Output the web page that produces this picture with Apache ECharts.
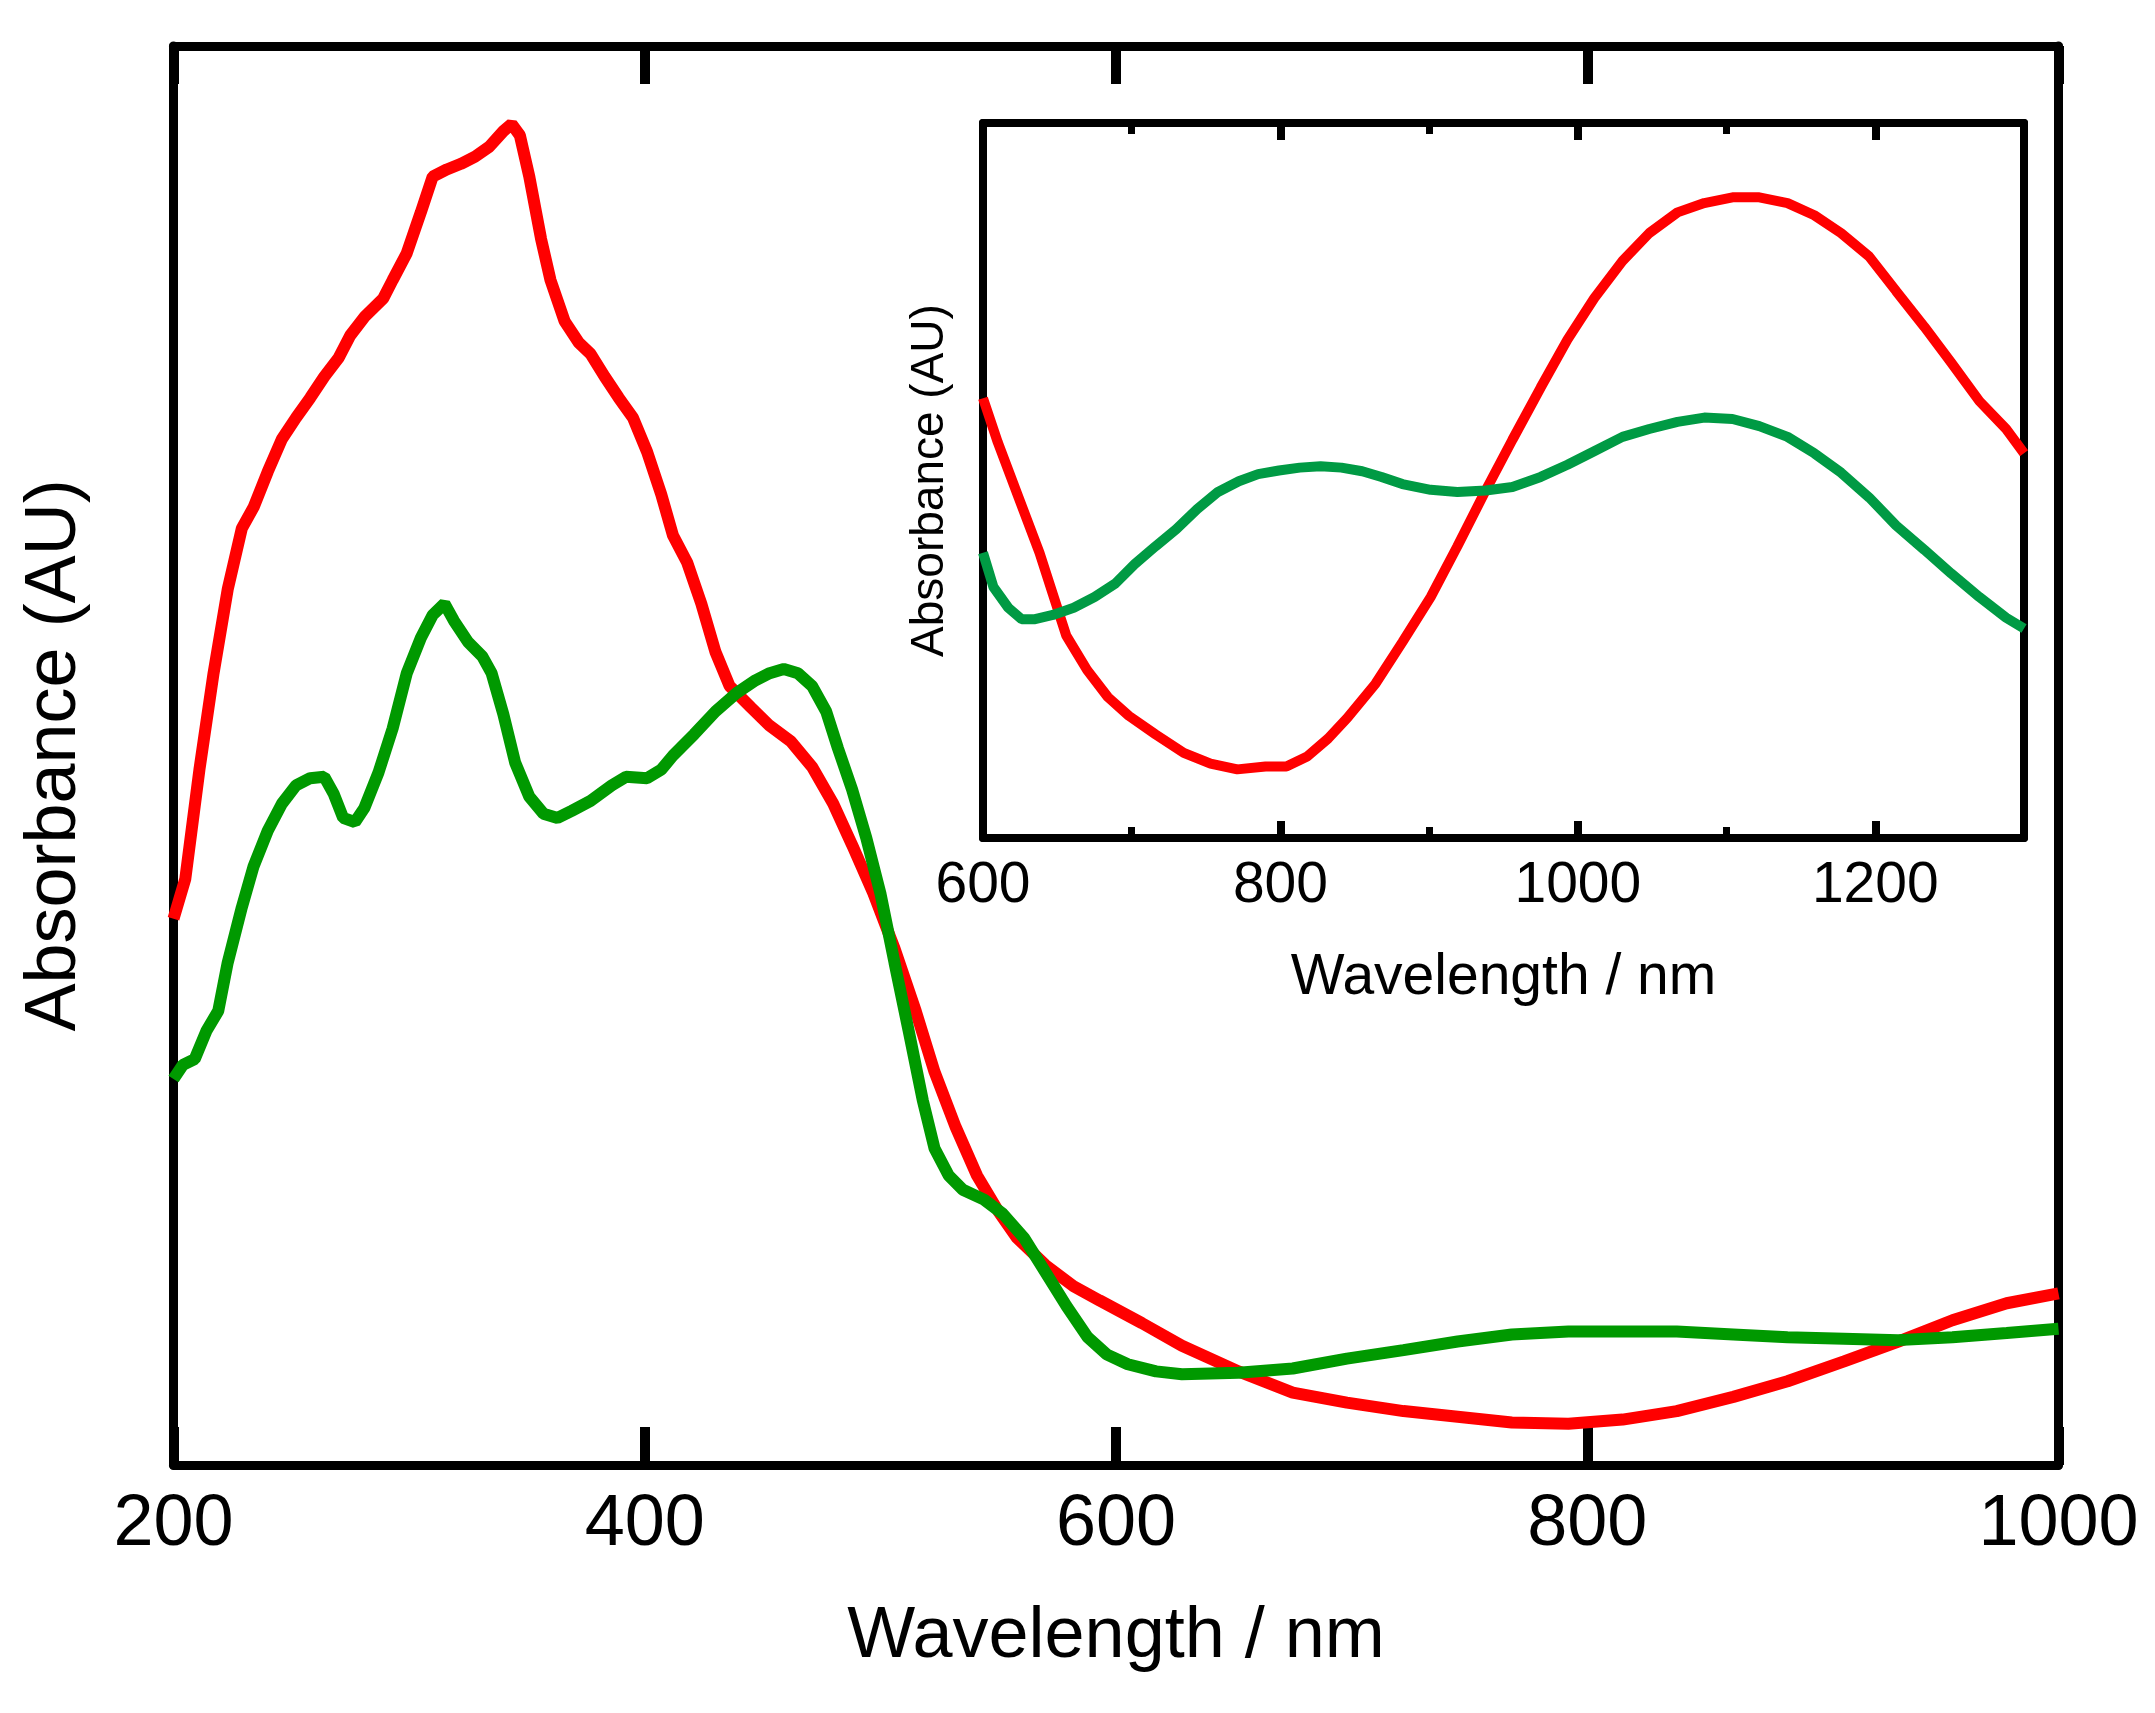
<!DOCTYPE html>
<html>
<head>
<meta charset="utf-8">
<script src="https://cdn.jsdelivr.net/npm/echarts@6/dist/echarts.min.js"></script>
<style>
html, body { margin: 0; padding: 0; background: #fff; }
#chart { width: 2155px; height: 1713px; }
</style>
</head>
<body>
<div id="chart"></div>
<script>
// main spectrum, 200 - 1000 nm (absorbance in arbitrary units, 0 = bottom of frame)
var redWl = [200, 205, 211, 217, 223, 229, 234, 240, 246, 252, 258, 264, 270, 275, 281, 289, 293, 299, 305, 310, 316, 322, 328, 334, 340, 343.5, 347, 351, 356, 360, 366, 372, 377, 383, 389, 395, 401, 407, 412, 418, 424, 430, 436, 445, 453, 462, 471, 480, 488, 497, 506, 515, 523, 532, 541, 550, 558, 570, 582, 593, 611, 628, 652, 675, 698, 722, 745, 768, 792, 815, 838, 862, 885, 909, 932, 955, 978, 1000];
var redAbs = [38.5, 41.3, 49, 55.8, 61.7, 66, 67.5, 70, 72.3, 73.8, 75.2, 76.7, 78, 79.6, 80.9, 82.2, 83.5, 85.4, 88.3, 90.8, 91.3, 91.7, 92.2, 92.9, 94, 94.5, 93.7, 90.8, 86.4, 83.5, 80.6, 79.1, 78.3, 76.7, 75.2, 73.8, 71.4, 68.4, 65.5, 63.6, 60.7, 57.3, 54.9, 53.4, 52.1, 51, 49.2, 46.6, 43.7, 40.3, 36.4, 32, 27.7, 23.8, 20.4, 17.9, 16, 14.1, 12.6, 11.6, 10, 8.4, 6.6, 5.1, 4.4, 3.8, 3.4, 3, 2.9, 3.2, 3.8, 4.8, 5.9, 7.3, 8.7, 10.2, 11.4, 12.1];
var greenWl = [200, 204, 209, 214, 219, 223, 229, 234, 240, 246, 252, 258, 264, 268, 272, 277, 281, 287, 293, 299, 305, 310, 315, 319, 325, 331, 335, 340, 345, 351, 357, 363, 369, 377, 386, 392, 401, 407, 412, 421, 430, 439, 447, 453, 459, 465, 471, 477, 482, 488, 494, 500, 506, 512, 518, 523, 529, 535, 544, 552, 561, 570, 579, 588, 596, 605, 617, 628, 652, 675, 698, 722, 745, 768, 792, 815, 838, 862, 885, 909, 932, 955, 978, 1000];
var greenAbs = [27.2, 28.2, 28.6, 30.6, 32, 35.4, 39.3, 42.2, 44.7, 46.6, 47.9, 48.4, 48.5, 47.3, 45.6, 45.3, 46.3, 48.8, 51.9, 55.8, 58.3, 59.9, 60.7, 59.5, 58, 57, 55.8, 52.9, 49.5, 47.1, 45.9, 45.6, 46.1, 46.8, 47.9, 48.5, 48.4, 49, 50, 51.5, 53.1, 54.4, 55.3, 55.8, 56.1, 55.8, 54.9, 53.1, 50.5, 47.6, 44.2, 40.3, 35.4, 30.6, 25.7, 22.3, 20.4, 19.4, 18.7, 17.7, 16, 13.6, 11.2, 9, 7.8, 7.1, 6.6, 6.4, 6.5, 6.8, 7.5, 8.1, 8.7, 9.2, 9.4, 9.4, 9.4, 9.2, 9, 8.9, 8.8, 9, 9.3, 9.6];

// inset, 600 - 1300 nm
var insetRedWl = [600, 610, 624, 638, 647, 656, 670, 684, 698, 716, 735, 753, 771, 790, 804, 818, 832, 845, 864, 882, 901, 919, 938, 956, 975, 993, 1011, 1030, 1048, 1067, 1085, 1104, 1122, 1141, 1159, 1177, 1196, 1214, 1233, 1251, 1270, 1288, 1300];
var insetRedAbs = [61.5, 55.3, 47.6, 39.9, 34.1, 28.3, 23.5, 19.7, 17.1, 14.5, 11.9, 10.4, 9.6, 10, 10, 11.4, 13.9, 16.8, 21.6, 27.4, 33.7, 40.8, 48.6, 55.7, 63, 69.7, 75.5, 80.7, 84.6, 87.5, 88.8, 89.6, 89.6, 88.8, 87.1, 84.6, 81.3, 76.5, 71.5, 66.5, 61.1, 57.2, 53.8];
var insetGreenWl = [600, 607, 617, 626, 635, 647, 661, 675, 689, 702, 716, 730, 744, 758, 772, 785, 799, 813, 827, 841, 855, 868, 882, 901, 919, 938, 956, 975, 993, 1011, 1030, 1048, 1067, 1085, 1104, 1122, 1141, 1159, 1177, 1196, 1214, 1233, 1251, 1270, 1288, 1300];
var insetGreenAbs = [39.9, 35.1, 32.2, 30.6, 30.6, 31.2, 32.2, 33.7, 35.6, 38.3, 40.8, 43.2, 46, 48.4, 49.9, 50.9, 51.4, 51.8, 52, 51.8, 51.3, 50.5, 49.5, 48.7, 48.4, 48.6, 49.1, 50.5, 52.2, 54.1, 56.1, 57.2, 58.2, 58.8, 58.6, 57.6, 56.1, 53.8, 51.1, 47.6, 43.7, 40.3, 37, 33.7, 30.8, 29.3];

var mainTicks = ['200', '400', '600', '800', '1000'];
var insetTicks = ['600', '800', '1000', '1200'];

function pairs(xs, ys) {
    var out = [];
    for (var i = 0; i < xs.length; i++) {
        out.push([xs[i], ys[i]]);
    }
    return out;
}

var font = '"Liberation Sans", Arial, Helvetica, sans-serif';
var black = '#000';

// x axis helper: frame side with optional ticks / labels
function xSide(grid, min, max, interval, pos, lineW, tickLen, tickW, showLine) {
    return {
        type: 'value', gridIndex: grid, min: min, max: max, interval: interval, position: pos,
        axisLine: { show: showLine, onZero: false, lineStyle: { color: black, width: lineW } },
        axisTick: { inside: true, length: tickLen, lineStyle: { color: black, width: tickW } },
        axisLabel: { show: false },
        splitLine: { show: false }
    };
}

function ySide(grid, pos, lineW) {
    return {
        type: 'value', gridIndex: grid, min: 0, max: 100, position: pos,
        axisLine: { show: true, onZero: false, lineStyle: { color: black, width: lineW } },
        axisTick: { show: false }, axisLabel: { show: false }, splitLine: { show: false }
    };
}

var mainBottom = xSide(0, 200, 1000, 200, 'bottom', 9, 38, 10, true);
mainBottom.axisLabel = {
    color: black, fontSize: 72, fontFamily: font, margin: 24,
    formatter: function (v) { return mainTicks.indexOf(String(v)) >= 0 ? String(v) : ''; }
};
mainBottom.name = 'Wavelength / nm';
mainBottom.nameLocation = 'middle';
mainBottom.nameGap = 136;
mainBottom.nameTextStyle = { color: black, fontSize: 72, fontFamily: font };

var insetBottom = xSide(1, 600, 1300, 200, 'bottom', 8, 17, 8, true);
insetBottom.axisLabel = {
    color: black, fontSize: 57, fontFamily: font, margin: 20,
    formatter: function (v) { return insetTicks.indexOf(String(v)) >= 0 ? String(v) : ''; }
};
insetBottom.name = 'Wavelength / nm';
insetBottom.nameLocation = 'middle';
insetBottom.nameGap = 112;
insetBottom.nameTextStyle = { color: black, fontSize: 57, fontFamily: font };

var mainLeft = ySide(0, 'left', 9);
mainLeft.name = 'Absorbance (AU)';
mainLeft.nameLocation = 'middle';
mainLeft.nameGap = 82;
mainLeft.nameRotate = 90;
mainLeft.nameTextStyle = { color: black, fontSize: 72, fontFamily: font };

var insetLeft = ySide(1, 'left', 8);
insetLeft.name = 'Absorbance (AU)';
insetLeft.nameLocation = 'middle';
insetLeft.nameGap = 30;
insetLeft.nameRotate = 90;
insetLeft.nameTextStyle = { color: black, fontSize: 46, fontFamily: font };

var chart = echarts.init(document.getElementById('chart'));

var option = {
    animation: false,
    backgroundColor: '#fff',
    textStyle: { fontFamily: font },
    grid: [
        { left: 173.5, top: 46, width: 1885, height: 1419 },
        { left: 983, top: 123, width: 1041, height: 715 }
    ],
    xAxis: [
        mainBottom,                                                // 0
        xSide(0, 200, 1000, 200, 'top', 9, 38, 10, true),          // 1
        insetBottom,                                               // 2
        xSide(1, 600, 1300, 100, 'bottom', 8, 11, 7, false),       // 3 minor
        xSide(1, 600, 1300, 200, 'top', 8, 17, 8, true),           // 4
        xSide(1, 600, 1300, 100, 'top', 8, 11, 7, false)           // 5 minor
    ],
    yAxis: [
        mainLeft,
        ySide(0, 'right', 9),
        insetLeft,
        ySide(1, 'right', 8)
    ],
    series: [
        {
            type: 'line', xAxisIndex: 0, yAxisIndex: 0, data: pairs(redWl, redAbs),
            showSymbol: false, lineStyle: { color: '#ff0000', width: 12 }, z: 3
        },
        {
            type: 'line', xAxisIndex: 0, yAxisIndex: 0, data: pairs(greenWl, greenAbs),
            showSymbol: false, lineStyle: { color: '#009900', width: 12 }, z: 3
        },
        {
            type: 'line', xAxisIndex: 2, yAxisIndex: 2, data: pairs(insetRedWl, insetRedAbs),
            showSymbol: false, lineStyle: { color: '#ff0000', width: 10 }, z: 3
        },
        {
            type: 'line', xAxisIndex: 2, yAxisIndex: 2, data: pairs(insetGreenWl, insetGreenAbs),
            showSymbol: false, lineStyle: { color: '#009a44', width: 10 }, z: 3
        }
    ]
};

chart.setOption(option);
</script>
</body>
</html>
